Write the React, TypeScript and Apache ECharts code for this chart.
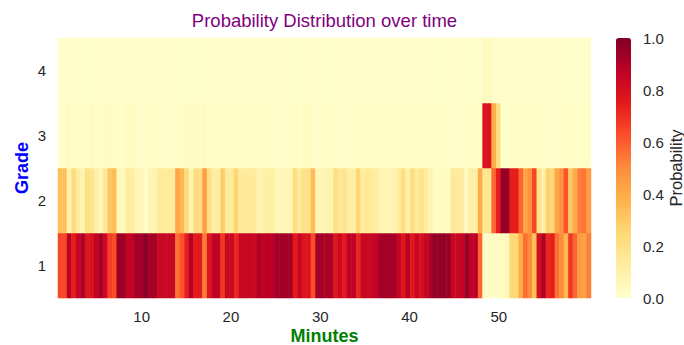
import React, { useEffect, useRef } from 'react';
import * as echarts from 'echarts';

// Grade categories (bottom to top)
const gradeLabels = ['1', '2', '3', '4'];

// Column labels: half-minute steps (118 columns)
const firstMinute = 1.0;
const minuteStep = 0.5;
// extent of the time axis in minutes (left / right edge of the heat map)
const axisStartMinute = 0.63;
const axisEndMinute = 60.32;

// x-axis tick labels
const minuteTicks = [10, 20, 30, 40, 50];
// colour-bar tick labels
const probTicks = [0, 0.2, 0.4, 0.6, 0.8, 1.0];

// Probability of each grade per half-minute column
const grade1 = [
  0.64, 0.64, 0.88, 0.74, 0.85, 0.91, 0.77, 0.79, 0.86, 0.92,
  0.83, 0.66, 0.63, 0.94, 0.94, 0.86, 0.86, 0.93, 0.93, 0.98,
  0.92, 0.92, 0.84, 0.84, 0.84, 0.84, 0.56, 0.62, 0.74, 0.89,
  0.75, 0.75, 0.53, 0.77, 0.86, 0.86, 0.68, 0.84, 0.84, 0.72,
  0.84, 0.84, 0.84, 0.83, 0.90, 0.87, 0.88, 0.88, 0.93, 0.93,
  0.93, 0.93, 0.75, 0.84, 0.78, 0.78, 0.63, 0.93, 0.93, 0.91,
  0.91, 0.77, 0.83, 0.76, 0.87, 0.87, 0.72, 0.84, 0.84, 0.84,
  0.86, 0.92, 0.92, 0.92, 0.92, 0.85, 0.77, 0.88, 0.76, 0.84,
  0.79, 0.85, 0.90, 0.96, 0.96, 0.96, 0.96, 0.84, 0.84, 0.85,
  0.95, 0.87, 0.88, 0.58, 0.02, 0.02, 0.02, 0.02, 0.03, 0.04,
  0.25, 0.25, 0.40, 0.56, 0.50, 0.33, 0.80, 0.90, 0.72, 0.74,
  0.56, 0.50, 0.36, 0.68, 0.58, 0.45, 0.43, 0.53,
];

const grade2 = [
  0.33, 0.33, 0.09, 0.23, 0.13, 0.07, 0.20, 0.18, 0.11, 0.06,
  0.15, 0.31, 0.34, 0.05, 0.05, 0.12, 0.12, 0.06, 0.06, 0.02,
  0.07, 0.07, 0.14, 0.14, 0.14, 0.14, 0.42, 0.36, 0.23, 0.08,
  0.22, 0.22, 0.44, 0.21, 0.12, 0.12, 0.29, 0.14, 0.14, 0.26,
  0.14, 0.14, 0.14, 0.14, 0.08, 0.10, 0.11, 0.11, 0.06, 0.06,
  0.06, 0.06, 0.22, 0.14, 0.20, 0.20, 0.34, 0.06, 0.06, 0.08,
  0.08, 0.21, 0.15, 0.18, 0.11, 0.11, 0.26, 0.13, 0.14, 0.14,
  0.12, 0.07, 0.07, 0.07, 0.07, 0.13, 0.21, 0.10, 0.22, 0.14,
  0.19, 0.13, 0.08, 0.03, 0.03, 0.03, 0.03, 0.15, 0.14, 0.13,
  0.04, 0.12, 0.11, 0.40, 0.17, 0.17, 0.57, 0.74, 0.96, 0.95,
  0.74, 0.74, 0.58, 0.42, 0.48, 0.65, 0.19, 0.09, 0.27, 0.25,
  0.42, 0.48, 0.62, 0.30, 0.40, 0.53, 0.55, 0.45,
];

const grade3 = [
  0.01, 0.01, 0.03, 0.01, 0.01, 0.01, 0.01, 0.03, 0.01, 0.01,
  0.02, 0.02, 0.01, 0.01, 0.01, 0.03, 0.03, 0.01, 0.01, 0.01,
  0.01, 0.01, 0.01, 0.01, 0.01, 0.01, 0.01, 0.01, 0.03, 0.02,
  0.02, 0.02, 0.03, 0.01, 0.01, 0.01, 0.02, 0.01, 0.01, 0.01,
  0.01, 0.01, 0.01, 0.02, 0.01, 0.01, 0.01, 0.01, 0.01, 0.01,
  0.01, 0.01, 0.02, 0.01, 0.03, 0.03, 0.02, 0.01, 0.01, 0.01,
  0.01, 0.01, 0.01, 0.01, 0.01, 0.01, 0.01, 0.02, 0.01, 0.01,
  0.01, 0.01, 0.01, 0.01, 0.01, 0.01, 0.01, 0.02, 0.01, 0.01,
  0.01, 0.01, 0.02, 0.02, 0.01, 0.01, 0.01, 0.01, 0.01, 0.01,
  0.01, 0.01, 0.01, 0.02, 0.78, 0.78, 0.40, 0.23, 0.01, 0.01,
  0.01, 0.01, 0.02, 0.01, 0.01, 0.01, 0.01, 0.01, 0.01, 0.01,
  0.01, 0.01, 0.01, 0.02, 0.01, 0.01, 0.01, 0.01,
];

const grade4 = [
  0.005, 0.005, 0.005, 0.005, 0.005, 0.005, 0.005, 0.005, 0.005, 0.005,
  0.005, 0.005, 0.005, 0.005, 0.005, 0.005, 0.005, 0.005, 0.005, 0.005,
  0.005, 0.005, 0.005, 0.005, 0.005, 0.005, 0.005, 0.005, 0.005, 0.005,
  0.005, 0.005, 0.005, 0.005, 0.005, 0.005, 0.005, 0.005, 0.005, 0.005,
  0.005, 0.005, 0.005, 0.005, 0.005, 0.005, 0.005, 0.005, 0.005, 0.005,
  0.005, 0.005, 0.005, 0.005, 0.005, 0.005, 0.005, 0.005, 0.005, 0.005,
  0.005, 0.005, 0.005, 0.005, 0.005, 0.005, 0.005, 0.005, 0.005, 0.005,
  0.005, 0.005, 0.005, 0.005, 0.005, 0.005, 0.005, 0.005, 0.005, 0.005,
  0.005, 0.005, 0.005, 0.005, 0.005, 0.005, 0.005, 0.005, 0.005, 0.005,
  0.005, 0.005, 0.005, 0.01, 0.04, 0.04, 0.005, 0.005, 0.005, 0.005,
  0.005, 0.005, 0.005, 0.005, 0.005, 0.005, 0.005, 0.005, 0.005, 0.005,
  0.005, 0.005, 0.005, 0.005, 0.005, 0.005, 0.005, 0.005,
];

// matplotlib YlOrRd
const YLORRD = ['#ffffcc', '#ffeda0', '#fed976', '#feb24c', '#fd8d3c', '#fc4e2a', '#e31a1c', '#bd0026', '#800026'];

const FONT = '"Liberation Sans", Arial, Helvetica, sans-serif';
const TICK_COLOR = '#262626';

export default function App() {
  const ref = useRef<HTMLDivElement>(null);

  useEffect(() => {
    const chart = echarts.init(ref.current!, null, { renderer: 'svg' });
    const minutes = grade1.map((_, i) => (firstMinute + i * minuteStep).toFixed(1));
    const rows = [grade1, grade2, grade3, grade4];
    const data: number[][] = [];
    rows.forEach((row, g) => row.forEach((v, i) => data.push([i, g, v])));

    chart.setOption({
      animation: false,
      backgroundColor: '#ffffff',
      textStyle: { fontFamily: FONT },
      title: {
        text: 'Probability Distribution over time',
        left: 324.5,
        top: 11,
        padding: 0,
        textAlign: 'center',
        textStyle: { color: '#800080', fontSize: 18.5, fontWeight: 'normal', fontFamily: FONT },
      },
      grid: [
        { left: 58, top: 38, width: 533, height: 260, outerBoundsMode: 'none', containLabel: false },
        { left: 616, top: 38, width: 15, height: 260, outerBoundsMode: 'none', containLabel: false },
      ],
      xAxis: [
        { type: 'category', gridIndex: 0, data: minutes, show: false },
        {
          type: 'value',
          gridIndex: 0,
          min: axisStartMinute,
          max: axisEndMinute,
          position: 'bottom',
          axisLine: { show: false },
          axisTick: { show: false },
          splitLine: { show: false },
          axisLabel: {
            customValues: minuteTicks,
            formatter: (v: number) => String(v),
            color: TICK_COLOR,
            fontSize: 15,
            margin: 11,
            fontFamily: FONT,
          },
          name: 'Minutes',
          nameLocation: 'middle',
          nameGap: 29,
          nameMoveOverlap: false,
          nameTextStyle: { color: '#008000', fontWeight: 'bold', fontSize: 18, lineHeight: 18, fontFamily: FONT },
        },
        { type: 'value', gridIndex: 1, show: false, min: 0, max: 1 },
      ],
      yAxis: [
        {
          type: 'category',
          gridIndex: 0,
          data: gradeLabels,
          axisLine: { show: false },
          axisTick: { show: false },
          splitLine: { show: false },
          axisLabel: { color: TICK_COLOR, fontSize: 15, margin: 12, fontFamily: FONT },
          name: 'Grade',
          nameLocation: 'middle',
          nameRotate: 90,
          nameGap: 27,
          nameMoveOverlap: false,
          nameTextStyle: { color: '#0000ff', fontWeight: 'bold', fontSize: 18, fontFamily: FONT },
        },
        {
          type: 'value',
          gridIndex: 1,
          min: 0,
          max: 1,
          interval: 0.2,
          position: 'right',
          axisLine: { show: false },
          axisTick: { show: false },
          splitLine: { show: false },
          axisLabel: {
            customValues: probTicks,
            formatter: (v: number) => v.toFixed(1),
            color: TICK_COLOR,
            fontSize: 15,
            margin: 12,
            fontFamily: FONT,
          },
          name: 'Probability',
          nameLocation: 'middle',
          nameRotate: 90,
          nameGap: 36,
          nameTextStyle: { color: TICK_COLOR, fontSize: 16.5, fontFamily: FONT },
        },
      ],
      visualMap: {
        type: 'continuous',
        min: 0,
        max: 1,
        seriesIndex: 0,
        calculable: false,
        hoverLink: false,
        orient: 'vertical',
        left: 616,
        top: 38,
        padding: 0,
        itemWidth: 15,
        itemHeight: 260,
        text: null,
        showLabel: false,
        inRange: { color: YLORRD },
      },
      series: [
        {
          type: 'heatmap',
          xAxisIndex: 0,
          yAxisIndex: 0,
          data,
          emphasis: { disabled: true },
          itemStyle: { borderWidth: 0 },
        },
      ],
    });

    return () => chart.dispose();
  }, []);

  return (
    <div
      ref={ref}
      style={{ position: 'fixed', left: 0, top: 0, width: 684, height: 345 }}
    />
  );
}
